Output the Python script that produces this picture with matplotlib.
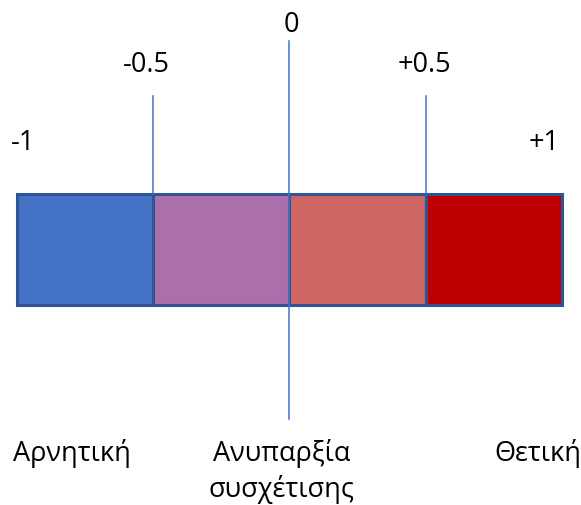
## correlation scale diagram: coloured segments from -1 to +1
import matplotlib.pyplot as plt
from matplotlib.patches import Rectangle

plt.rcParams['font.family'] = ['Open Sans', 'DejaVu Sans']

# segment edges and fills
edges   = [-1.0, -0.5, 0.0, 0.5, 1.0]
fills   = ['#4472C4', '#AB6FAC', '#CD6662', '#BF0000']

# value labels above the bar
tick_text  = ['-1', '-0.5', '0', '+0.5', '+1']
tick_x     = [-0.978, -0.524, 0.006, 0.496, 0.934]
tick_base  = [150, 72, 32, 72, 150]
# marker lines: value, top, bottom (px)
marks      = [-0.5, 0.0, 0.5]
mark_top   = [97, 42, 97]
mark_bot   = [195, 420, 195]

# category labels below the bar
cats       = ['Αρνητική', 'Ανυπαρξία\nσυσχέτισης', 'Θετική']
cat_x      = [-0.80, -0.03, 0.91]

W, H = 581, 506
px = 272.5  # pixels per unit
fig = plt.figure(figsize=(W/100, H/100), dpi=100)
ax = fig.add_axes([0, 0, 1, 1])
ax.set_xlim(-1 - 17/px, 1 + 19/px)
ax.set_ylim(H, 0)
ax.axis('off')

bar_top, bar_h = 195, 111
for i in range(len(fills)):
    ax.add_patch(Rectangle((edges[i], bar_top), edges[i+1]-edges[i], bar_h,
                           facecolor=fills[i], edgecolor='#2F5597', lw=2.2))

for m, t, b in zip(marks, mark_top, mark_bot):
    ax.plot([m, m], [t, b], color='#4472C4', lw=1.1)

for x, s, y in zip(tick_x, tick_text, tick_base):
    ax.text(x, y, s, ha='center', va='baseline', fontsize=19.5)

for x, s in zip(cat_x, cats):
    for k, line in enumerate(s.split('\n')):
        ax.text(x, 461 + 36*k, line, ha='center', va='baseline', fontsize=19.5)

fig.savefig('out.png', dpi=100)
